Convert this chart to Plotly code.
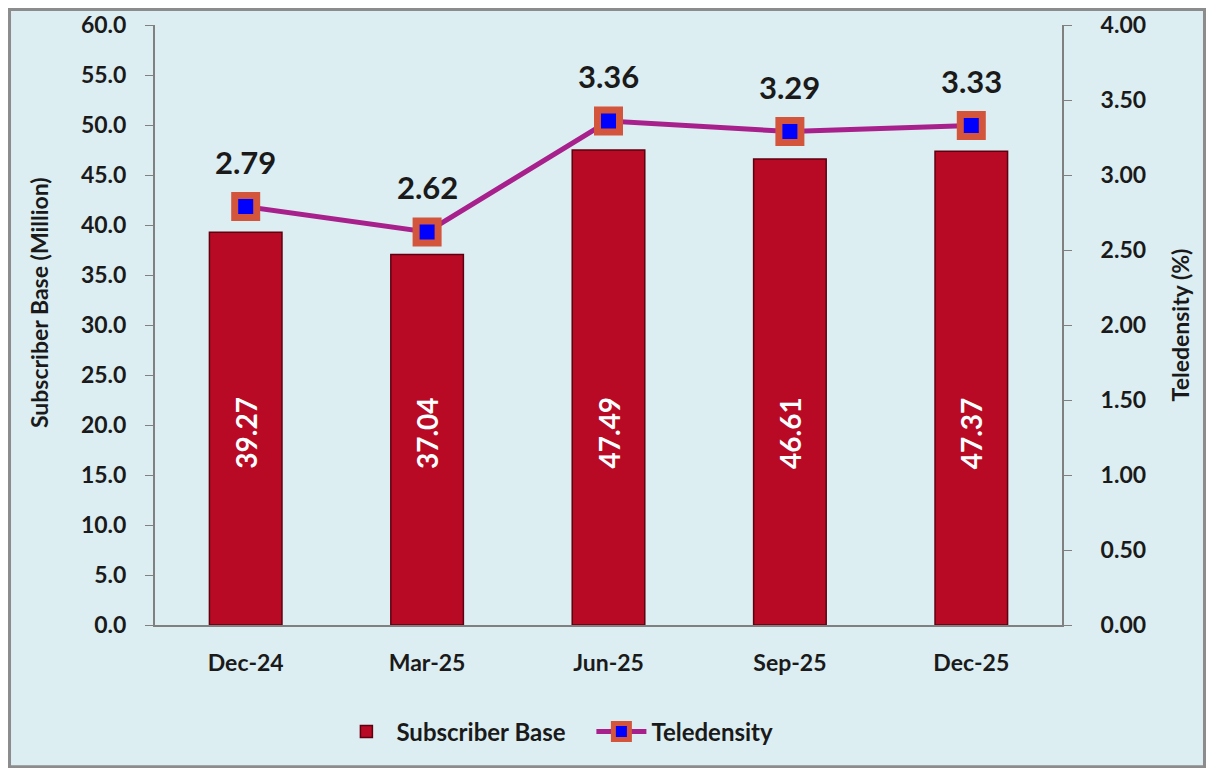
import plotly.graph_objects as go

quarters = ['Dec-24', 'Mar-25', 'Jun-25', 'Sep-25', 'Dec-25']
subscriber_base = [39.27, 37.04, 47.49, 46.61, 47.37]
teledensity = [2.79, 2.62, 3.36, 3.29, 3.33]

bg = '#DCEEF2'
font = 'Lato'
ink = '#1A1A1A'

fig = go.Figure()

fig.add_trace(go.Bar(
    x=quarters, y=subscriber_base, name='<b>Subscriber Base</b>',
    marker=dict(color='#B80A24', line=dict(color='#5E0010', width=1.5)),
    width=0.4))

fig.add_trace(go.Scatter(
    x=quarters, y=teledensity, name='<b>Teledensity</b>', yaxis='y2',
    mode='lines+markers',
    line=dict(color='#A8208C', width=5),
    marker=dict(symbol='square', size=22, color='#0000FF',
                line=dict(color='#D2553C', width=7))))

# white rotated values inside bars
for q, v in zip(quarters, subscriber_base):
    fig.add_annotation(x=q, y=19.2, yref='y', text='<b>%.2f</b>' % v, textangle=-90,
                       showarrow=False, font=dict(color='white', size=28, family=font))

# teledensity labels above markers
for q, v in zip(quarters, teledensity):
    fig.add_annotation(x=q, y=v, yref='y2', text='<b>%.2f</b>' % v, yshift=45,
                       showarrow=False, font=dict(color=ink, size=31, family=font))

# left axis title (sits a bit above the axis centre in the original)
fig.add_annotation(xref='paper', yref='paper', x=-0.128, y=0.538, xanchor='center', yanchor='middle',
                   text='<b>Subscriber Base (Million)</b>',
                   textangle=-90, showarrow=False, font=dict(size=23, family=font, color=ink))

fig.add_shape(type='rect', xref='paper', yref='paper', x0=-0.1604, x1=1.1571, y0=-0.2362, y1=1.026,
              line=dict(color='#8C8C8C', width=3))

axis_font = dict(family=font, size=23, color=ink)
fig.update_layout(
    width=1198, height=760,
    margin=dict(l=147, r=144, t=17, b=143, autoexpand=False),
    paper_bgcolor=bg, plot_bgcolor=bg,
    font=dict(family=font, color=ink),
    bargap=0.6,
    showlegend=True,
    legend=dict(orientation='h', x=0.2, xanchor='left', y=-0.178, yanchor='middle',
                itemwidth=50, entrywidth=190, entrywidthmode='pixels',
                font=dict(size=24, family=font, color=ink), bgcolor='rgba(0,0,0,0)'),
    xaxis=dict(showline=True, linecolor='#808080', linewidth=2, ticks='', ticklabelstandoff=16,
               tickfont=axis_font, showgrid=False, automargin=False,
               tickprefix='<b>', ticksuffix='</b>'),
    yaxis=dict(range=[0, 60], dtick=5, tickformat='.1f', showgrid=False, zeroline=False,
               showline=True, linecolor='#808080', linewidth=2, automargin=False,
               ticks='outside', ticklen=8, tickcolor='#808080', tickfont=axis_font,
               ticklabeloverflow='allow',
               ticklabelstandoff=14, tickprefix='<b>', ticksuffix='</b>'),
    yaxis2=dict(title=dict(text='<b>Teledensity (%)</b>', font=dict(size=23, family=font),
                           standoff=28),
                overlaying='y', side='right', range=[0, 4], dtick=0.5, tickformat='.2f',
                showgrid=False, zeroline=False, showline=True, linecolor='#808080', linewidth=2,
                automargin=False, ticklabeloverflow='allow',
                ticks='outside', ticklen=8, tickcolor='#808080', tickfont=axis_font,
                ticklabelstandoff=24, tickprefix='<b>', ticksuffix='</b>'),
)

fig.write_html('out.html')
